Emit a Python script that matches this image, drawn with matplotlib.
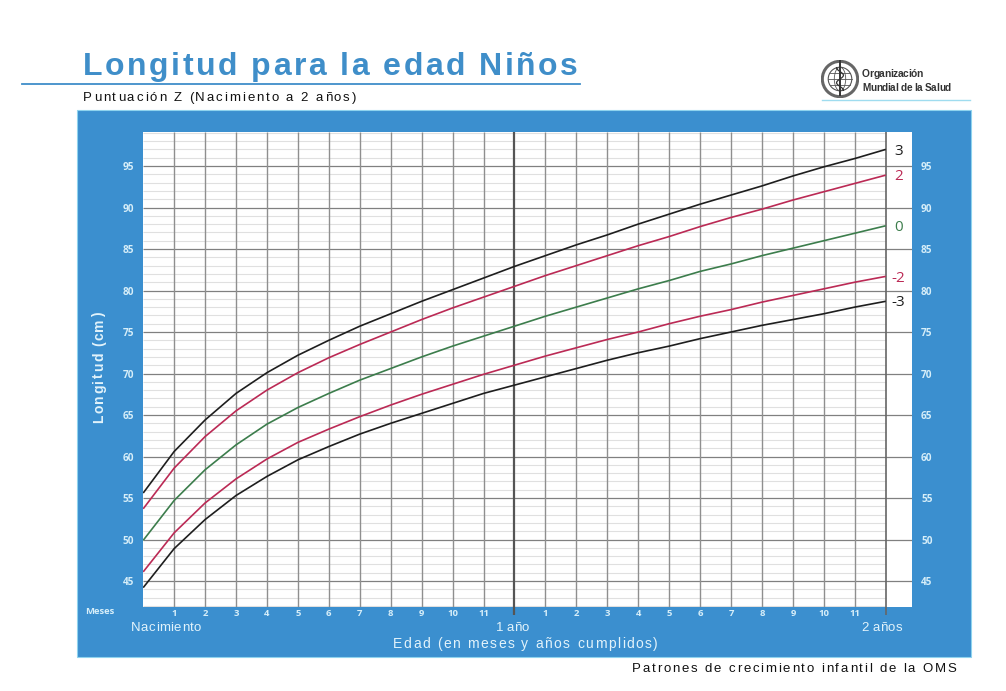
import numpy as np
import matplotlib
matplotlib.use("Agg")
import matplotlib.pyplot as plt
from matplotlib.patches import Rectangle, Circle, Ellipse
from matplotlib.font_manager import FontProperties
from matplotlib.textpath import TextToPath

# WHO length-for-age, boys, birth to 2 years (cm)
months = list(range(0, 25))
z_m3 = [44.2, 48.9, 52.4, 55.3, 57.6, 59.6, 61.2, 62.7, 64.0, 65.2, 66.4, 67.6, 68.6,
        69.6, 70.6, 71.6, 72.5, 73.3, 74.2, 75.0, 75.8, 76.5, 77.2, 78.0, 78.7]
z_m2 = [46.1, 50.8, 54.4, 57.3, 59.7, 61.7, 63.3, 64.8, 66.2, 67.5, 68.7, 69.9, 71.0,
        72.1, 73.1, 74.1, 75.0, 76.0, 76.9, 77.7, 78.6, 79.4, 80.2, 81.0, 81.7]
z_0 = [49.9, 54.7, 58.4, 61.4, 63.9, 65.9, 67.6, 69.2, 70.6, 72.0, 73.3, 74.5, 75.7,
       76.9, 78.0, 79.1, 80.2, 81.2, 82.3, 83.2, 84.2, 85.1, 86.0, 86.9, 87.8]
z_p2 = [53.7, 58.6, 62.4, 65.5, 68.0, 70.1, 71.9, 73.5, 75.0, 76.5, 77.9, 79.2, 80.5,
        81.8, 83.0, 84.2, 85.4, 86.5, 87.7, 88.8, 89.8, 90.9, 91.9, 92.9, 93.9]
z_p3 = [55.6, 60.6, 64.4, 67.6, 70.1, 72.2, 74.0, 75.7, 77.2, 78.7, 80.1, 81.5, 82.9,
        84.2, 85.5, 86.7, 88.0, 89.2, 90.4, 91.5, 92.6, 93.8, 94.9, 95.9, 97.0]

curve_names = ["3", "2", "0", "-2", "-3"]
curve_values = [z_p3, z_p2, z_0, z_m2, z_m3]

month_ticks = [m for m in range(1, 24) if m != 12]
month_labels = [str(m % 12) for m in month_ticks]
y_ticks = list(range(45, 100, 5))

BLUE = "#3b8fcf"
TITLE_BLUE = "#3f8ec9"
PALE = "#d6eef9"
BLACK = "#1e1e1e"
RED = "#bb2a55"
GREEN = "#3c7d4c"
curve_colors = [BLACK, RED, GREEN, RED, BLACK]

W, H, DPI = 1006, 691, 100
FONT = "Liberation Sans"
t2p = TextToPath()

fig = plt.figure(figsize=(W / DPI, H / DPI), dpi=DPI)


def px(x, y):
    return x / W, 1 - y / H


def spaced_text(start, end, base, s, size, vertical=False, weight="normal",
                family=FONT, **kw):
    # letter-spaced text stretched between start and end (pixels)
    prop = FontProperties(family=family, weight=weight, size=size)
    w_xx = t2p.get_text_width_height_descent("xx", prop, ismath=False)[0]
    adv = [(t2p.get_text_width_height_descent("x" + c + "x", prop, ismath=False)[0] - w_xx)
           * DPI / 72 for c in s]
    gap = (abs(end - start) - sum(adv)) / (len(s) - 1)
    pos = 0.0
    for c, a in zip(s, adv):
        if vertical:
            fig.text(*px(base, start - pos), c, rotation=90, rotation_mode="anchor",
                     ha="left", va="baseline", fontproperties=prop, **kw)
        else:
            fig.text(*px(start + pos, base), c, ha="left", va="baseline",
                     fontproperties=prop, **kw)
        pos += a + gap


# background panel
fig.patches.append(Rectangle(px(77, 657), (971 - 77) / W, (657 - 110) / H,
                             transform=fig.transFigure, facecolor=BLUE,
                             edgecolor="#8fd3ee", linewidth=0.8, zorder=-5))
# title and rules
spaced_text(83, 578, 75, "Longitud para la edad Niños", 23, weight="bold", color=TITLE_BLUE)
fig.add_artist(plt.Line2D([22 / W, 580 / W], [1 - 84 / H] * 2, color=TITLE_BLUE, lw=1.3))
spaced_text(83, 356, 101, "Puntuación Z (Nacimiento a 2 años)", 9.5, color="#111111")
fig.add_artist(plt.Line2D([822 / W, 970 / W], [1 - 100 / H] * 2, color="#9fdcef", lw=1.0))
spaced_text(632, 956, 671.5, "Patrones de crecimiento infantil de la OMS", 9.5, color="#111111")

# WHO emblem (simplified)
lax = fig.add_axes([821 / W, 1 - 98 / H, 38 / W, 38 / H])
lax.set_xlim(-1, 1)
lax.set_ylim(-1, 1)
lax.set_aspect("equal")
lax.axis("off")
lax.add_patch(Circle((0, 0), 0.93, fill=False, ec="#666666", lw=2.2))
lax.add_patch(Circle((0, 0), 0.62, fill=False, ec="#555555", lw=0.8))
lax.add_patch(Ellipse((0, 0), 0.6, 1.24, fill=False, ec="#555555", lw=0.6))
for yy in (-0.3, 0, 0.3):
    hw = np.sqrt(0.62 ** 2 - yy ** 2)
    lax.plot([-hw, hw], [yy, yy], color="#555555", lw=0.6)
lax.plot([0, 0], [-0.85, 0.95], color="#333333", lw=1.4)
sy = np.linspace(-0.6, 0.6, 40)
lax.plot(0.18 * np.sin(sy * 8), sy, color="#333333", lw=0.9)
spaced_text(862, 923, 77, "Organización", 7.4, weight="bold", color="#333333")
spaced_text(862, 951, 91, "Mundial de la Salud", 7.2, weight="bold", color="#333333")

# chart area
x0, x1, ytop, ybot = 143.2, 912, 132, 607
ax = fig.add_axes([x0 / W, 1 - ybot / H, (x1 - x0) / W, (ybot - ytop) / H])
ax.set_facecolor("white")
xmax = (x1 - x0) / 30.94
ax.set_xlim(0, xmax)
ylo = 95 - (ybot - 166) / 8.3
yhi = 95 + (166 - ytop) / 8.3
ax.set_ylim(ylo, yhi)
for s in ax.spines.values():
    s.set_visible(False)

minor = [v for v in range(42, 100) if v % 5]
ax.hlines(minor, 0, 24, color="#e0e0e0", lw=0.8, zorder=1)
ax.hlines(y_ticks, 0, xmax, color="#808080", lw=0.9, zorder=2)
ax.vlines([m for m in range(1, 24) if m != 12], ylo, yhi, color="#8f8f8f", lw=1.0, zorder=2)
ax.vlines([12], ylo - 1.0, yhi, color="#555555", lw=1.6, zorder=2, clip_on=False)
ax.vlines([24], ylo - 1.0, yhi, color="#666666", lw=1.2, zorder=2, clip_on=False)

for name, vals, col in zip(curve_names, curve_values, curve_colors):
    ax.plot(months, vals, color=col, lw=1.2, zorder=3, solid_capstyle="butt")
    ax.text(24.41, vals[-1] - 0.2, name, color=col, ha="center", va="center",
            fontsize=11, family="Open Sans")

ax.set_xticks(month_ticks)
ax.set_xticklabels(month_labels)
ax.set_yticks(y_ticks)
ax.tick_params(axis="x", length=0, pad=1.5, labelsize=6.8, labelcolor=PALE)
ax.tick_params(axis="y", length=0, pad=6.5, labelsize=7.2, labelcolor=PALE,
               labelleft=True, labelright=True)
for lab in ax.get_xticklabels() + ax.get_yticklabels():
    lab.set_family("Open Sans")
    lab.set_fontweight("bold")

fig.text(*px(100, 612), "Meses", ha="center", va="center", fontsize=6.8,
         family="Open Sans", fontweight="bold", color=PALE)
spaced_text(131, 201, 630.7, "Nacimiento", 9.5, color="#e2f3fb")
spaced_text(496, 529, 630.7, "1 año", 9.5, color="#e2f3fb")
spaced_text(861, 902, 630.7, "2 años", 9.5, color="#e2f3fb")
spaced_text(393, 658, 648.3, "Edad (en meses y años cumplidos)", 10, color="#e2f3fb")
spaced_text(423, 312, 103, "Longitud (cm)", 10, vertical=True, weight="bold", color="#e2f3fb")

fig.savefig("out.png", dpi=DPI, facecolor="white")
